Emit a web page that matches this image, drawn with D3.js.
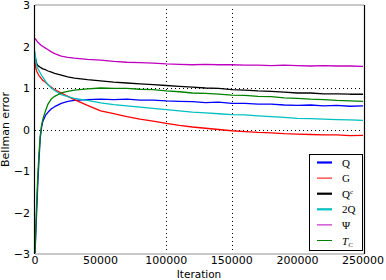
<!DOCTYPE html>
<html>
<head>
<meta charset="utf-8">
<script src="https://cdn.jsdelivr.net/npm/d3@7"></script>
<style>
  body { margin: 0; background: #fff; }
  svg { display: block; font-family: "DejaVu Sans", sans-serif; }
</style>
</head>
<body>
<svg id="chart" width="386" height="280"></svg>
<script>
// iteration samples shared by every series
const iterations = [0, 500, 1000, 1500, 2000, 3000, 4000, 5000, 6000, 8000, 10000, 12500, 15000,
  20000, 25000, 30000, 40000, 50000, 60000, 70000, 80000, 90000, 100000, 110000, 120000, 130000,
  140000, 150000, 160000, 170000, 180000, 190000, 200000, 210000, 220000, 230000, 240000, 250000];

const q = [-3.0, -2.6, -2.2, -1.8, -1.4, -0.75, -0.2, 0.05, 0.2, 0.34, 0.42, 0.5, 0.55, 0.63, 0.68, 0.7, 0.72,
  0.73, 0.72, 0.73, 0.71, 0.71, 0.69, 0.68, 0.67, 0.65, 0.66, 0.63, 0.63, 0.61, 0.61, 0.59, 0.58, 0.59, 0.57, 0.58, 0.56, 0.57];
const g = [1.62, 1.5, 1.43, 1.39, 1.36, 1.3, 1.26, 1.22, 1.18, 1.14, 1.08, 1.02, 0.96, 0.88, 0.8, 0.72, 0.58,
  0.45, 0.38, 0.31, 0.25, 0.2, 0.15, 0.1, 0.06, 0.03, 0.0, -0.03, -0.05, -0.07, -0.08, -0.1, -0.11, -0.12, -0.13, -0.13, -0.15, -0.14];
const qc = [1.8, 1.7, 1.63, 1.58, 1.55, 1.52, 1.5, 1.48, 1.46, 1.44, 1.41, 1.38, 1.35, 1.31, 1.27, 1.24, 1.2,
  1.17, 1.14, 1.12, 1.1, 1.08, 1.06, 1.04, 1.02, 1.0, 0.99, 0.96, 0.95, 0.93, 0.92, 0.9, 0.88, 0.88, 0.86, 0.86, 0.85, 0.85];
const q2 = [1.88, 1.7, 1.58, 1.52, 1.48, 1.42, 1.36, 1.3, 1.26, 1.16, 1.08, 1.0, 0.94, 0.84, 0.79, 0.75, 0.7,
  0.64, 0.6, 0.57, 0.54, 0.51, 0.48, 0.45, 0.42, 0.4, 0.38, 0.36, 0.35, 0.33, 0.31, 0.29, 0.27, 0.26, 0.25, 0.24, 0.23, 0.22];
const psi = [2.2, 2.17, 2.15, 2.13, 2.11, 2.08, 2.05, 2.02, 2.0, 1.96, 1.92, 1.87, 1.83, 1.77, 1.74, 1.72, 1.69,
  1.67, 1.64, 1.62, 1.61, 1.6, 1.58, 1.57, 1.56, 1.57, 1.56, 1.56, 1.55, 1.55, 1.54, 1.55, 1.54, 1.53, 1.54, 1.53, 1.53, 1.52];
const tc = [-3.0, -2.5, -2.0, -1.6, -1.2, -0.6, -0.15, 0.1, 0.25, 0.45, 0.62, 0.74, 0.8, 0.88, 0.92, 0.95, 0.98,
  1.0, 0.99, 0.99, 0.97, 0.96, 0.93, 0.91, 0.88, 0.87, 0.85, 0.83, 0.82, 0.8, 0.79, 0.76, 0.75, 0.73, 0.72, 0.7, 0.69, 0.68];

const xTicks = [0, 50000, 100000, 150000, 200000, 250000];
const yTicks = [-3, -2, -1, 0, 1, 2, 3];
const xGrid = [100000, 150000];
const yGrid = [0, 1];

const series = [
  { name: "Q", values: q, color: "#0000ff", legendWidth: 2.2 },
  { name: "G", values: g, color: "#ff0000", legendWidth: 1 },
  { name: "Qc", values: qc, color: "#000000", legendWidth: 2.2 },
  { name: "2Q", values: q2, color: "#00bfbf", legendWidth: 2.2 },
  { name: "Psi", values: psi, color: "#bf00bf", legendWidth: 1 },
  { name: "Tc", values: tc, color: "#008000", legendWidth: 1 }
];

const margin = { top: 5, left: 35, right: 23, bottom: 26 };
const width = 386, height = 280;

const svg = d3.select("#chart");

const x = d3.scaleLinear().domain([0, 250000]).range([margin.left, width - margin.right]);
const y = d3.scaleLinear().domain([-3, 3]).range([height - margin.bottom, margin.top]);

// grid
svg.append("g")
  .selectAll("line")
  .data(yGrid)
  .join("line")
  .attr("x1", x(0)).attr("x2", x(250000))
  .attr("y1", d => Math.round(y(d)) + 0.5).attr("y2", d => Math.round(y(d)) + 0.5)
  .attr("stroke", "#000").attr("stroke-dasharray", "1,3");

svg.append("g")
  .selectAll("line")
  .data(xGrid)
  .join("line")
  .attr("x1", d => Math.round(x(d)) + 0.5).attr("x2", d => Math.round(x(d)) + 0.5)
  .attr("y1", y(3)).attr("y2", y(-3))
  .attr("stroke", "#000").attr("stroke-dasharray", "1,3");

// lines
const line = d3.line()
  .x((d, i) => x(iterations[i]))
  .y(d => y(d));

svg.append("g")
  .selectAll("path")
  .data(series)
  .join("path")
  .attr("d", d => line(d.values))
  .attr("fill", "none")
  .attr("stroke", d => d.color)
  .attr("stroke-width", 1.3)
  .attr("stroke-linejoin", "round");

// frame
svg.append("line")
  .attr("x1", x(0)).attr("x2", x(250000) + 1)
  .attr("y1", y(3)).attr("y2", y(3))
  .attr("stroke", "#c8c8c8").attr("stroke-width", 2);
svg.append("line")
  .attr("x1", x(0)).attr("x2", x(250000) + 1)
  .attr("y1", y(-3)).attr("y2", y(-3))
  .attr("stroke", "#c8c8c8").attr("stroke-width", 2);
svg.append("line")
  .attr("x1", x(0) - 0.5).attr("x2", x(0) - 0.5)
  .attr("y1", y(3)).attr("y2", y(-3))
  .attr("stroke", "#000").attr("stroke-width", 1.2);
svg.append("line")
  .attr("x1", x(250000) + 1.5).attr("x2", x(250000) + 1.5)
  .attr("y1", y(3)).attr("y2", y(-3))
  .attr("stroke", "#000").attr("stroke-width", 1.2);

// tick labels
svg.append("g")
  .selectAll("text")
  .data(xTicks)
  .join("text")
  .attr("x", d => x(d))
  .attr("y", height - margin.bottom + 10)
  .attr("text-anchor", "middle")
  .attr("font-size", 11)
  .text(d => d);

svg.append("g")
  .selectAll("text")
  .data(yTicks)
  .join("text")
  .attr("x", margin.left - 5)
  .attr("y", d => y(d) + 4)
  .attr("text-anchor", "end")
  .attr("font-size", 11)
  .text(d => d < 0 ? "\u2212" + Math.abs(d) : d);

// axis labels
svg.append("text")
  .attr("x", (x(0) + x(250000)) / 2)
  .attr("y", 277.5)
  .attr("text-anchor", "middle")
  .attr("font-size", 10.5)
  .text("Iteration");

svg.append("text")
  .attr("transform", `translate(9,${y(0)}) rotate(-90)`)
  .attr("text-anchor", "middle")
  .attr("font-size", 11)
  .text("Bellman error");

// legend
const legend = svg.append("g").attr("transform", "translate(309,154)");
legend.append("rect")
  .attr("x", 0.5).attr("y", 0.5)
  .attr("width", 53).attr("height", 96)
  .attr("fill", "#fff").attr("stroke", "#000");

const item = legend.selectAll("g.item")
  .data(series)
  .join("g")
  .attr("class", "item")
  .attr("transform", (d, i) => `translate(0,${8.5 + i * 15.6})`);

item.append("line")
  .attr("x1", 8).attr("x2", 23)
  .attr("stroke", d => d.color)
  .attr("stroke-width", d => d.legendWidth);

const labels = item.append("text")
  .attr("x", 33)
  .attr("y", 4)
  .attr("font-family", "'Liberation Serif', serif")
  .attr("font-size", 11);

labels.each(function(d) {
  const t = d3.select(this);
  if (d.name === "Qc") {
    t.append("tspan").text("Q");
    t.append("tspan").attr("font-size", 7).attr("dy", -4).text("c");
  } else if (d.name === "Psi") {
    t.text("\u03A8");
  } else if (d.name === "Tc") {
    t.append("tspan").attr("font-style", "italic").text("T");
    t.append("tspan").attr("font-size", 7).attr("dy", 2).attr("font-style", "italic").text("C");
  } else {
    t.text(d.name);
  }
});
</script>
</body>
</html>
